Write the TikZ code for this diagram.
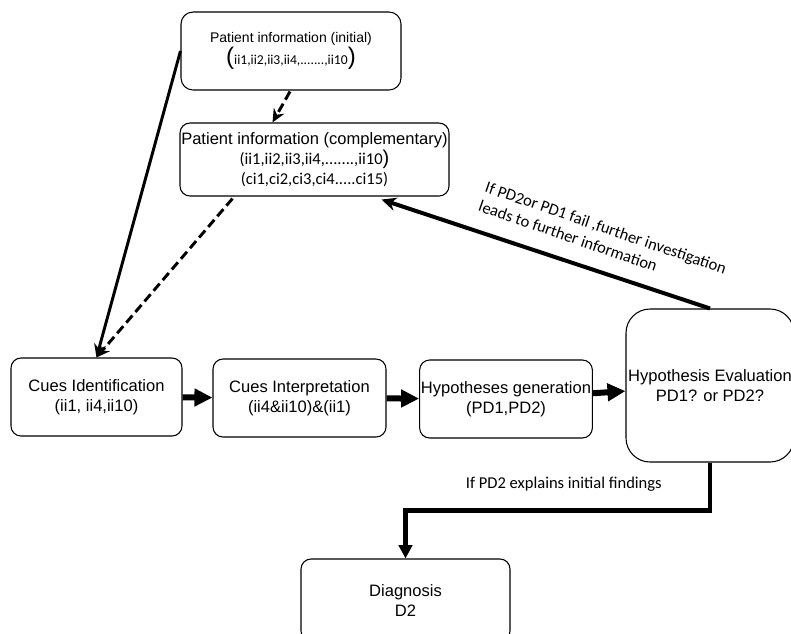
\documentclass[tikz,border=0pt]{standalone}
\usepackage{fontspec}
\setmainfont{Liberation Sans}
\newfontfamily\calib{Carlito}
\usetikzlibrary{arrows.meta,calc}

\begin{document}
\begin{tikzpicture}[x=0.75pt,y=-0.75pt,
box/.style={draw,line width=0.8pt,rounded corners=7.5pt,align=center,inner sep=1pt,minimum height=58.5pt,font=\fontsize{12.4}{15}\selectfont},
thinarr/.style={line width=2.2pt,-{Stealth[length=10pt,width=9pt]}},
dasharr/.style={thinarr,dash pattern=on 7pt off 3.5pt},
blockarr/.style={line width=4.5pt,-{Triangle[length=13.5pt,width=12.75pt]}},
backarr/.style={line width=3pt,-{Stealth[length=11pt,width=10pt]}},
downarr/.style={line width=3.5pt,-{Triangle[length=10pt,width=10pt]}},
lbl/.style={font=\calib\fontsize{12.4}{15}\selectfont}]
\useasboundingbox (0,0) rectangle (791,633);
\clip (0,0) rectangle (791,633);

\node[box,rounded corners=9pt,minimum width=165pt,font=\fontsize{10.5}{13}\selectfont] (initial) at (291,51)
  {Patient information (initial)\\ {\fontsize{18}{18}\selectfont(}{\calib\fontsize{10.2}{12}\selectfont ii1,ii2,ii3,ii4,.......,ii10}{\fontsize{18}{18}\selectfont)}};
\node[box,minimum width=201.75pt,minimum height=54.75pt,inner sep=0pt] (compl) at (314.5,159.5)
  {Patient information (complementary)\\ {\calib (ii1,ii2,ii3,ii4,.......,ii10}{\fontsize{15}{15}\selectfont)}\\ {\calib (ci1,ci2,ci3,ci4.....ci15)}};

\node[box,minimum width=128.25pt] (cues) at (96.5,397) {Cues Identification\\(ii1, ii4,ii10)};
\node[box,minimum width=129.75pt] (interp) at (299.5,398) {Cues Interpretation\\(ii4\&ii10)\&(ii1)};
\node[box,minimum width=129pt] (hypgen) at (506,399) {Hypotheses generation\\(PD1,PD2)};
\node[box,rounded corners=18pt,minimum width=126pt,minimum height=114.75pt] (eval) at (710,385.5) {Hypothesis Evaluation\\PD1? or PD2?};
\node[box,minimum width=156.75pt,minimum height=61.5pt] (diag) at (405.5,600) {Diagnosis\\D2};

\draw[thinarr] (initial.west) -- (cues.north);
\draw[dasharr] ($(initial.south)+(-1,1)$) -- ($(compl.north)+(-42,0)$);
\draw[dasharr] ($(compl.south)+(-82,2)$) -- (cues.north);

\draw[blockarr] (cues) -- (interp);
\draw[blockarr] (interp) -- (hypgen);
\draw[blockarr] (hypgen) -- (eval);

\draw[backarr] (eval.north) -- node[pos=0.36,rotate=-19,anchor=south,inner sep=12pt,align=left,lbl]
  {If PD2or PD1 fail ,further investigation\\leads to further information} ($(compl.south)+(67,3)$);
\draw[downarr] (eval.south) -- ++(0,48) -| node[pos=0.24,above=9pt,lbl] {If PD2 explains initial findings} (diag.north);
\end{tikzpicture}
\end{document}
